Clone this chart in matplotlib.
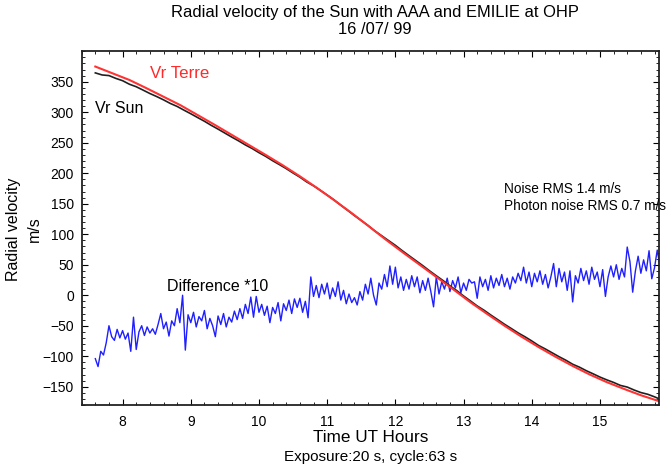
import numpy as np
import matplotlib
matplotlib.use('Agg')
import matplotlib.pyplot as plt
from matplotlib.ticker import MultipleLocator

plt.rcParams['font.family'] = ['Liberation Sans', 'DejaVu Sans']

# Vr Terre (red), read every 0.25 h
t_terre = [7.60, 7.85, 8.10, 8.35, 8.60, 8.85, 9.10, 9.35, 9.60, 9.85,
           10.10, 10.35, 10.60, 10.85, 11.10, 11.35, 11.60, 11.85, 12.10, 12.35,
           12.60, 12.85, 13.10, 13.35, 13.60, 13.85, 14.10, 14.35, 14.60, 14.85,
           15.10, 15.35, 15.60, 15.86]
vr_terre = [375, 364, 353, 339.5, 325.5, 311.5, 295.5, 279.5, 263, 246.5,
            230, 213, 195, 176, 156, 135.5, 114, 92, 71, 50.5,
            30, 9.5, -11.5, -31, -50, -68, -85, -101, -116, -130,
            -142.5, -153.5, -164, -173.5]

# Vr Sun (black), read every 0.1 h
t_sun = [7.6, 7.7, 7.8, 7.9, 8.0, 8.1, 8.2, 8.3, 8.4, 8.5,
         8.6, 8.7, 8.8, 8.9, 9.0, 9.1, 9.2, 9.3, 9.4, 9.5,
         9.6, 9.7, 9.8, 9.9, 10.0, 10.1, 10.2, 10.3, 10.4, 10.5,
         10.6, 10.7, 10.8, 10.9, 11.0, 11.1, 11.2, 11.3, 11.4, 11.5,
         11.6, 11.7, 11.8, 11.9, 12.0, 12.1, 12.2, 12.3, 12.4, 12.5,
         12.6, 12.7, 12.8, 12.9, 13.0, 13.1, 13.2, 13.3, 13.4, 13.5,
         13.6, 13.7, 13.8, 13.9, 14.0, 14.1, 14.2, 14.3, 14.4, 14.5,
         14.6, 14.7, 14.8, 14.9, 15.0, 15.1, 15.2, 15.3, 15.4, 15.5,
         15.6, 15.7, 15.8, 15.86]
vr_sun = [364.6, 361.2, 360.2, 355.6, 351.8, 346.0, 341.9, 336.4, 330.8, 325.8,
          320.4, 314.5, 309.6, 303.5, 297.6, 291.4, 285.3, 278.6, 272.4, 265.9,
          259.4, 253.2, 246.5, 240.6, 233.8, 227.6, 220.6, 214.2, 207.6, 200.4,
          193.6, 185.8, 179.4, 171.9, 164.3, 156.4, 147.6, 139.2, 130.6, 122.5,
          114.3, 105.3, 97.5, 89.6, 81.8, 73.1, 64.9, 56.8, 48.7, 40.1,
          31.9, 24.0, 15.4, 7.6, -1.2, -9.3, -17.6, -24.6, -32.5, -40.0,
          -47.6, -54.6, -61.8, -68.1, -75.0, -82.4, -88.2, -94.5, -100.8, -106.6,
          -113.2, -118.0, -123.8, -128.9, -134.2, -138.8, -143.0, -147.9, -150.6, -155.4,
          -159.6, -162.4, -166.6, -169.5]

# Difference *10 (blue), one value every 0.04 h from 7.60
diff10 = [-104, -117, -92, -98, -78, -50, -68, -74, -56, -70,
          -58, -72, -62, -92, -36, -89, -60, -50, -66, -52,
          -62, -55, -64, -48, -30, -55, -44, -67, -42, -50,
          -22, -45, 0, -90, -32, -45, -28, -52, -35, -42,
          -25, -55, -38, -50, -68, -34, -48, -30, -52, -36,
          -44, -26, -40, -22, -38, -15, -30, -3, -36, -2,
          -28, -15, -33, -18, -45, -20, -30, -12, -42, -14,
          -25, -8, -30, -6, -20, -5, -28, -10, -37, 30,
          -2, 16, -4, 18, 2, 20, -6, 12, -2, 22,
          -8, 8, -14, 2, -12, -4, -16, 6, -8, 18,
          2, 28, 0, -16, 20, 10, 34, 14, 48, 18,
          46, 12, 30, 8, 26, 10, 32, 14, 30, 4,
          24, 8, 28, 6, -19, 30, 2, 22, 10, 28,
          6, 24, 12, 30, 4, 20, 8, 26, 20, 22,
          -5, 30, 14, 26, 8, 32, 12, 28, 16, 34,
          14, 28, 10, 30, 20, 36, 24, 46, 20, 38,
          14, 36, 22, 40, 18, 34, 12, 30, 52, 14,
          44, 22, 38, 8, 40, -11, 32, 20, 44, 24,
          40, 18, 46, 26, 38, 14, 42, -2, 30, 48,
          30, 50, 26, 44, 30, 79, 55, 5, 40, 64,
          36, 58, 40, 73, 27, 45, 74, 48]
t_diff = 7.60 + 0.04 * np.arange(len(diff10))

fig = plt.figure(figsize=(6.7, 4.7), dpi=100)
ax = fig.add_axes([0.1219, 0.1383, 0.8621, 0.7532])

ax.plot(t_diff, diff10, color='#1f1fff', lw=1.0)
ax.plot(t_sun, vr_sun, color='#202020', lw=1.2)
ax.plot(t_terre, vr_terre, color='#ff3333', lw=1.5)

ax.set_xlim(7.40, 15.87)
ax.set_ylim(-180, 400.5)
ax.set_xticks(np.arange(8, 16, 1))
ax.set_yticks(np.arange(-150, 351, 50))
ax.xaxis.set_minor_locator(MultipleLocator(0.2))
ax.yaxis.set_minor_locator(MultipleLocator(10))
ax.tick_params(which='both', direction='in', top=True, right=True, labelsize=10)
ax.tick_params(which='major', length=4, width=0.8)
ax.tick_params(which='minor', length=2.2, width=0.6)
ax.tick_params(axis='x', pad=7.5)
ax.tick_params(axis='y', pad=5.5)
for s in ax.spines.values():
    s.set_linewidth(1.3)
    s.set_color('#222222')

# curve labels
ax.text(8.40, 364, 'Vr Terre', color='#ff2a2a', fontsize=12.2, va='center')
ax.text(7.59, 306, 'Vr Sun', color='black', fontsize=11.5, va='center')
ax.text(8.645, 15, 'Difference *10', color='black', fontsize=11.5, va='center')
ax.text(13.59, 175, 'Noise RMS 1.4 m/s', fontsize=9.8, va='center', clip_on=False)
ax.text(13.59, 147, 'Photon noise RMS 0.7 m/s', fontsize=9.8, va='center', clip_on=False)

fig.text(0.56, 1 - 12 / 470, 'Radial velocity of the Sun with AAA and EMILIE at OHP',
         ha='center', va='center', fontsize=11.9)
fig.text(0.56, 1 - 30 / 470, '16 /07/ 99', ha='center', va='center', fontsize=11.9)

fig.text(0.553, 1 - 438 / 470, 'Time UT Hours', ha='center', va='center', fontsize=12.3)
fig.text(0.553, 1 - 457 / 470, 'Exposure:20 s, cycle:63 s', ha='center', va='center', fontsize=11)

fig.text(14 / 670, 1 - 229 / 470, 'Radial velocity', rotation=90, ha='center', va='center', fontsize=11.5)
fig.text(34 / 670, 1 - 229 / 470, 'm/s', rotation=90, ha='center', va='center', fontsize=11.5)

fig.savefig('out.png', dpi=100)
